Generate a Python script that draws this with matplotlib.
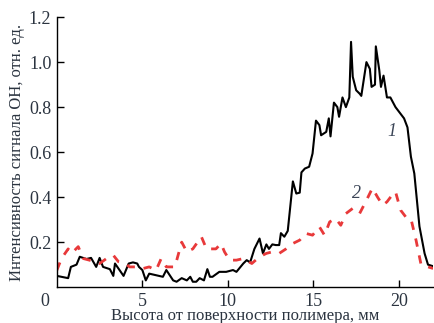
import matplotlib.pyplot as plt

# curve 1 (black, solid)
x1 = [0.0, 0.66, 0.82, 1.15, 1.34, 1.73, 2.0, 2.3, 2.5, 2.7, 3.1, 3.3, 3.4, 3.9, 4.2, 4.45,
      4.7, 4.8, 5.0, 5.2, 5.4, 5.8, 6.2, 6.4, 6.8, 7.0, 7.3, 7.6, 7.8, 7.95, 8.15, 8.35, 8.6,
      8.8, 8.95, 9.1, 9.5, 9.9, 10.3, 10.5, 10.9, 11.1, 11.3, 11.55, 11.85, 12.05, 12.25, 12.4,
      12.6, 12.8, 13.0, 13.1, 13.3, 13.5, 13.8, 14.0, 14.2, 14.3, 14.5, 14.75, 14.95, 15.15,
      15.35, 15.45, 15.75, 15.9, 16.0, 16.2, 16.4, 16.5, 16.7, 16.9, 17.1, 17.2, 17.3, 17.5,
      17.7, 17.8, 18.1, 18.3, 18.4, 18.6, 18.65, 18.85, 18.95, 19.1, 19.3, 19.5, 19.8, 20.0,
      20.3, 20.5, 20.7, 20.9, 21.2, 21.5, 21.7, 22.0]
y1 = [0.05, 0.04, 0.09, 0.10, 0.135, 0.125, 0.13, 0.09, 0.13, 0.09, 0.08, 0.05, 0.105, 0.05,
      0.105, 0.11, 0.105, 0.09, 0.076, 0.03, 0.06, 0.053, 0.046, 0.076, 0.03, 0.024, 0.04, 0.03,
      0.046, 0.024, 0.024, 0.04, 0.03, 0.08, 0.046, 0.046, 0.068, 0.068, 0.076, 0.068, 0.105,
      0.12, 0.11, 0.17, 0.216, 0.15, 0.19, 0.17, 0.19, 0.187, 0.187, 0.24, 0.224, 0.25, 0.47,
      0.416, 0.42, 0.51, 0.527, 0.535, 0.594, 0.74, 0.72, 0.675, 0.69, 0.75, 0.67, 0.82, 0.80,
      0.757, 0.843, 0.80, 0.843, 1.09, 0.935, 0.875, 0.86, 0.85, 1.0, 0.97, 0.89, 0.9, 1.07,
      0.965, 0.89, 0.94, 0.843, 0.843, 0.80, 0.78, 0.75, 0.71, 0.58, 0.505, 0.27, 0.15, 0.10,
      0.093]

# curve 2 (red, dashed)
x2 = [0.0, 0.27, 0.66, 0.86, 1.25, 1.55, 1.9, 2.5, 2.9, 3.3, 3.6, 4.0, 4.25, 4.65, 5.05, 5.4,
      5.8, 6.1, 6.4, 6.9, 7.3, 7.6, 7.95, 8.45, 8.75, 9.3, 9.6, 9.8, 10.1, 10.5, 10.9, 11.4,
      11.85, 12.25, 12.6, 13.0, 13.4, 13.8, 14.2, 14.55, 14.95, 15.35, 15.65, 15.95, 16.3,
      16.6, 16.9, 17.3, 17.7, 18.1, 18.45, 18.75, 19.05, 19.3, 19.6, 19.8, 20.1, 20.4, 20.7,
      21.0, 21.3, 21.7, 22.0]
y2 = [0.075, 0.127, 0.17, 0.15, 0.18, 0.127, 0.12, 0.105, 0.127, 0.142, 0.113, 0.105, 0.09,
      0.09, 0.083, 0.09, 0.075, 0.127, 0.09, 0.09, 0.2, 0.157, 0.17, 0.224, 0.17, 0.17, 0.194,
      0.157, 0.12, 0.12, 0.127, 0.105, 0.135, 0.15, 0.157, 0.15, 0.17, 0.194, 0.209, 0.239,
      0.231, 0.268, 0.231, 0.29, 0.305, 0.275, 0.327, 0.35, 0.327, 0.386, 0.44, 0.40, 0.364,
      0.379, 0.409, 0.424, 0.342, 0.312, 0.305, 0.209, 0.098, 0.09, 0.083]

y_ticks = [0.2, 0.4, 0.6, 0.8, 1.0, 1.2]
x_ticks = [5, 10, 15, 20]

plt.rcParams['font.family'] = ['Liberation Serif', 'DejaVu Serif']
txt = '#2b3440'

fig = plt.figure(figsize=(4.34, 3.23), dpi=100)
ax = fig.add_axes([0.131, 0.111, 0.867, 0.836])

ax.plot(x1, y1, color='black', lw=1.5)
ax.plot(x2, y2, color='#e8393a', lw=2.0, dashes=(3.0, 3.2))

ax.text(19.6, 0.69, '1', fontstyle='italic', fontsize=13, color='#3a4456',
        ha='center', va='center')
ax.text(17.5, 0.416, '2', fontstyle='italic', fontsize=13, color='#3a4456',
        ha='center', va='center')

ax.set_xlim(0, 22)
ax.set_ylim(0, 1.2)
ax.set_xticks(x_ticks)
ax.set_yticks(y_ticks)
ax.set_yticklabels([f'{v:.1f}' for v in y_ticks])
ax.tick_params(direction='in', length=5, width=1, labelsize=13, labelcolor=txt, pad=4)
ax.text(-0.02, -0.022, '0', transform=ax.transAxes, ha='right', va='top',
        fontsize=13, color=txt)

for s in ['top', 'right']:
    ax.spines[s].set_visible(False)
for s in ['left', 'bottom']:
    ax.spines[s].set_linewidth(1.0)

ax.set_xlabel('Высота от поверхности полимера, мм', fontsize=12, color=txt, labelpad=-1)
ax.set_ylabel('Интенсивность сигнала ОН, отн. ед.', fontsize=12, color=txt, labelpad=3)

fig.savefig('out.png', dpi=100)
